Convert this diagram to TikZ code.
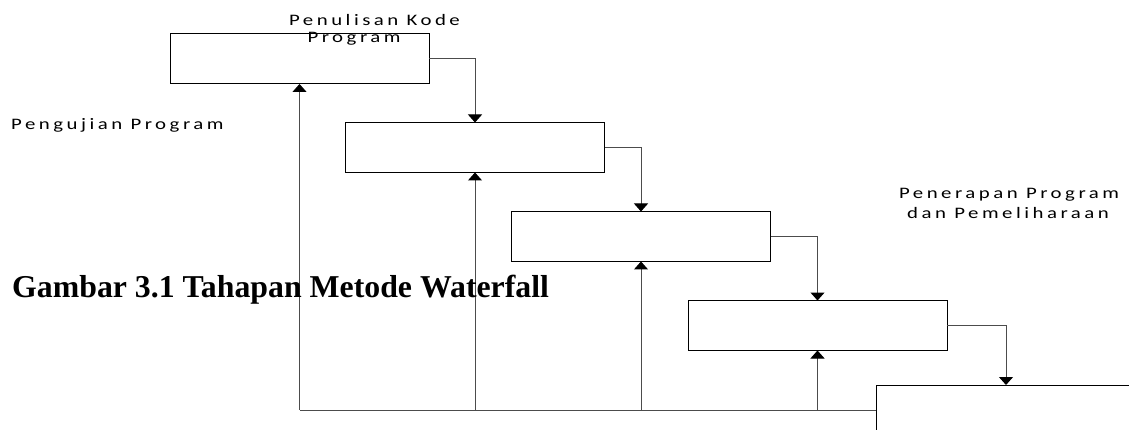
\documentclass[tikz,border=0pt]{standalone}
\usepackage{fontspec}
\setmainfont{Liberation Serif}
\newfontfamily\lblfont[LetterSpace=22,FakeStretch=1.3]{Carlito}
\usetikzlibrary{arrows.meta}
\begin{document}
\begin{tikzpicture}[x=1pt,y=-1pt,
  box/.style={draw=black,line width=1pt,fill=white,minimum width=259pt,minimum height=50pt,inner sep=0pt,outer sep=0pt},
  conn/.style={draw=black!70,line width=1pt},
  arr/.style={conn,-{Triangle[width=14pt,length=8pt,color=black]}},
  lbl/.style={font=\lblfont\fontsize{16}{19}\selectfont,inner sep=0pt}]
\clip (0,0) rectangle (1129,430);
\fill[white] (0,0) rectangle (1129,430);
% boxes
\node[box] (b1) at (299.5,59) {};
\node[box] (b2) at (475,147.5) {};
\node[box] (b3) at (641,236.5) {};
\node[box] (b4) at (817.5,325.5) {};
\node[box,minimum width=260pt] (b5) at (1006,410) {};
% forward connectors
\draw[arr] (b1.east) -| (b2.north);
\draw[arr] (b2.east) -| (b3.north);
\draw[arr] (b3.east) -| (b4.north);
\draw[arr] (b4.east) -| (b5.north);
% feedback
\coordinate (f1) at (b1.south |- b5.west);
\coordinate (f2) at (b2.south |- b5.west);
\coordinate (f3) at (b3.south |- b5.west);
\coordinate (f4) at (b4.south |- b5.west);
\draw[conn] (b5.west) -- (f1);
\draw[arr] (f1) -- (b1.south);
\draw[arr] (f2) -- (b2.south);
\draw[arr] (f3) -- (b3.south);
\draw[arr] (f4) -- (b4.south);
% labels
\node[lbl] (t1a) at (374.5,20) {Penulisan Kode};
\node[lbl] (t1b) at (354,39) {Program};
\node[lbl,anchor=west] (t2) at (11,125) {Pengujian Program};
\node[lbl] (t3a) at (1009,195) {Penerapan Program};
\node[lbl] (t3b) at (1008,213) {dan Pemeliharaan};
\node[anchor=base west,inner sep=0pt,font=\bfseries\fontsize{31.8}{36}\selectfont] (cap) at (12,297) {Gambar 3.1 Tahapan Metode Waterfall};
\end{tikzpicture}
\end{document}
